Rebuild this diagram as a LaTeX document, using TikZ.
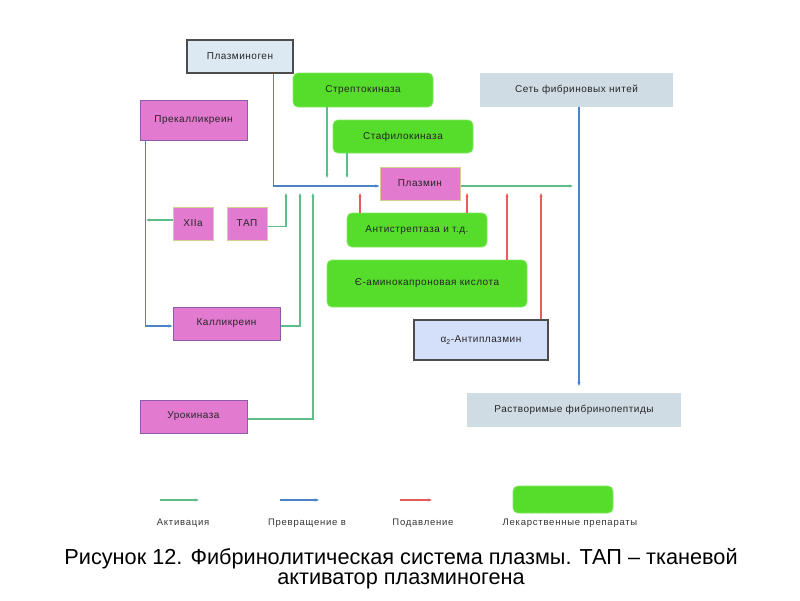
\documentclass[tikz,border=0pt]{standalone}
\usepackage{fontspec}
\setmainfont{Liberation Sans}
\newfontfamily\boxfont[LetterSpace=5]{Liberation Sans}
\newfontfamily\legfont[LetterSpace=8]{Liberation Sans}
\usetikzlibrary{arrows.meta}
\definecolor{pinkfill}{RGB}{226,122,207}
\definecolor{tanline}{RGB}{214,206,140}
\definecolor{purpline}{RGB}{140,92,168}
\definecolor{drugfill}{RGB}{86,220,42}
\definecolor{drugline}{RGB}{130,232,100}
\definecolor{greyfill}{RGB}{208,220,228}
\definecolor{bluefill}{RGB}{220,232,242}
\definecolor{lavfill}{RGB}{212,224,250}
\definecolor{actcol}{RGB}{96,188,136}
\definecolor{convcol}{RGB}{74,132,196}
\definecolor{inhcol}{RGB}{230,92,92}
\tikzset{
  box/.style={inner sep=0pt, font=\boxfont\fontsize{10}{11}\selectfont, text=black!85},
  pinkbox/.style={box, fill=pinkfill, draw=purpline, line width=1pt},
  pinktan/.style={box, fill=pinkfill, draw=tanline, line width=1pt},
  drugbox/.style={box, fill=drugfill, draw=drugline, line width=0.8pt, rounded corners=5pt},
  greybox/.style={box, fill=greyfill},
  darkbox/.style={box, draw=black!70, line width=1.1pt},
  act/.style={draw=actcol, line width=1.1pt, -{Stealth[length=4pt,width=3pt]}},
  conv/.style={draw=convcol, line width=1.1pt, -{Stealth[length=4pt,width=3pt]}},
  inhib/.style={draw=inhcol, line width=1.1pt, -{Stealth[length=4pt,width=3pt]}},
  legtext/.style={font=\legfont\fontsize{9.5}{11}\selectfont, text=black!80}
}
\begin{document}
\begin{tikzpicture}[x=1pt, y=-1pt]
  \useasboundingbox (0,0) rectangle (800,600);
  % boxes
  \node[darkbox, fill=bluefill, minimum width=106pt, minimum height=33pt] (plasminogen) at (240,56.5) {Плазминоген};
  \node[drugbox, minimum width=140pt, minimum height=34pt] (strepto) at (363,90) {Стрептокиназа};
  \node[greybox, minimum width=193pt, minimum height=34pt] (fibrin) at (576.5,90) {Сеть фибриновых нитей};
  \node[pinkbox, minimum width=107pt, minimum height=40pt] (prekal) at (193.5,120) {Прекалликреин};
  \node[drugbox, minimum width=140pt, minimum height=33pt] (staphylo) at (403,136.5) {Стафилокиназа};
  \node[pinktan, minimum width=80pt, minimum height=33pt] (plasmin) at (420,183.5) {Плазмин};
  \node[pinktan, minimum width=40pt, minimum height=33pt] (xiia) at (193,223.5) {XIIa};
  \node[pinktan, minimum width=40pt, minimum height=33pt] (tap) at (247,223.5) {ТАП};
  \node[drugbox, minimum width=140pt, minimum height=34pt] (antistrep) at (417,230) {Антистрептаза и т.д.};
  \node[drugbox, minimum width=200pt, minimum height=47pt] (aminocap) at (427,283.5) {Є-аминокапроновая кислота};
  \node[pinkbox, minimum width=107pt, minimum height=33pt] (kallik) at (226.5,323.5) {Калликреин};
  \node[darkbox, fill=lavfill, minimum width=134pt, minimum height=40pt] (antiplasmin) at (481,340) {α\textsubscript{2}-Антиплазмин};
  \node[greybox, minimum width=214pt, minimum height=34pt] (soluble) at (574,410) {Растворимые фибринопептиды};
  \node[pinkbox, minimum width=107pt, minimum height=33pt] (urokin) at (193.5,416.5) {Урокиназа};
  % free ends
  \coordinate (s1) at (327,178);
  \coordinate (s2) at (347,178);
  \coordinate (u1) at (286,193);
  \coordinate (u2) at (300,193);
  \coordinate (u3) at (313,193);
  \coordinate (r1) at (360,193);
  \coordinate (r2) at (467,193);
  \coordinate (r3) at (507,193);
  \coordinate (r4) at (541,193);
  \coordinate (pk) at (146,220);
  \coordinate (pout) at (573,186);
  \coordinate (fout) at (579,386);
  % conversions
  \begin{scope}[conv]
    \draw ([xshift=-20pt]plasminogen.south east) |- ([yshift=-2.5pt]plasmin.west);
    \draw ([xshift=6pt]prekal.south west) |- ([yshift=-2.5pt]kallik.west);
    \draw (fibrin.south -| fout) -- (fout);
  \end{scope}
  % activations
  \begin{scope}[act]
    \draw (strepto.south -| s1) -- (s1);
    \draw (staphylo.south -| s2) -- (s2);
    \draw ([yshift=-3pt]tap.east) -| (u1);
    \draw ([yshift=-2.5pt]kallik.east) -| (u2);
    \draw ([yshift=-2.5pt]urokin.east) -| (u3);
    \draw (xiia.west |- pk) -- (pk);
    \draw ([yshift=-2.5pt]plasmin.east) -- (pout);
  \end{scope}
  % inhibitions
  \begin{scope}[inhib]
    \draw (antistrep.north -| r1) -- (r1);
    \draw (antistrep.north -| r2) -- (r2);
    \draw (aminocap.north -| r3) -- (r3);
    \draw (antiplasmin.north -| r4) -- (r4);
  \end{scope}
  % legend
  \coordinate (la1) at (160,500);
  \coordinate (la2) at (199,500);
  \coordinate (lb1) at (280,500);
  \coordinate (lb2) at (319,500);
  \coordinate (lc1) at (400,500);
  \coordinate (lc2) at (432,500);
  \draw[act] (la1) -- (la2);
  \draw[conv] (lb1) -- (lb2);
  \draw[inhib] (lc1) -- (lc2);
  \node[drugbox, minimum width=100pt, minimum height=27pt] (legdrug) at (563,499.5) {};
  \node[legtext] (lega) at (183,523) {Активация};
  \node[legtext] (legb) at (307,523) {Превращение в};
  \node[legtext] (legc) at (423,523) {Подавление};
  \node[legtext] (legd) at (570,523) {Лекарственные препараты};
  % caption
  \node[font=\fontsize{21.7}{20}\selectfont, align=center, inner sep=0pt] (caption) at (401,569)
    {Рисунок 12. Фибринолитическая система плазмы. ТАП – тканевой\\активатор плазминогена};
\end{tikzpicture}
\end{document}
